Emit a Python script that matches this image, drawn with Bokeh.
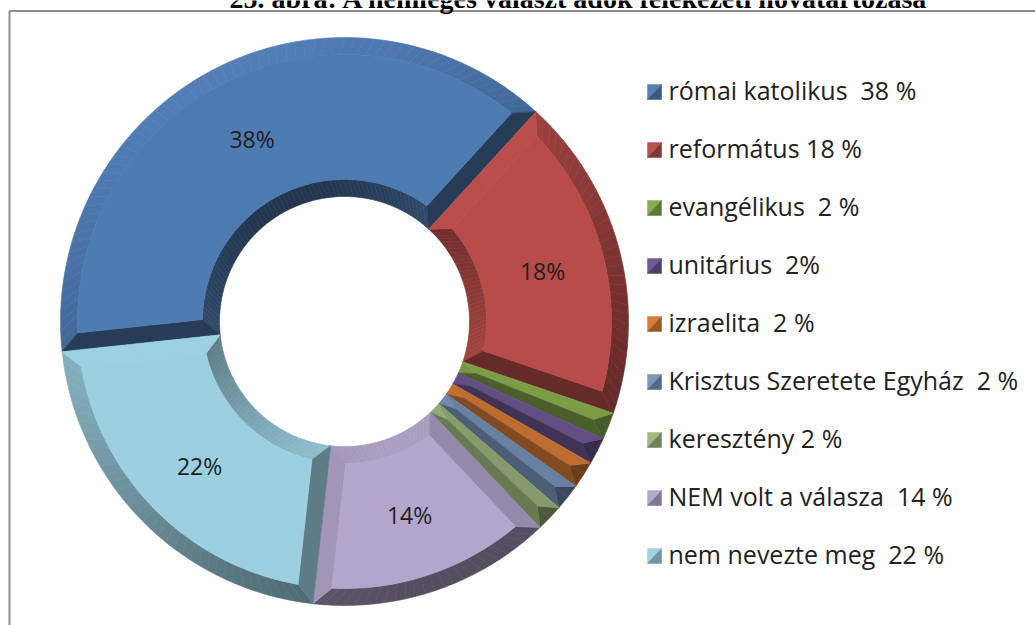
import math
from bokeh.plotting import figure
from bokeh.models import ColumnDataSource, Range1d
from bokeh.core.properties import value
from bokeh.embed import file_html
from bokeh.resources import INLINE

# ---------------- data ----------------
title_text = "25. ábra: A nemleges választ adók felekezeti hovatartozása"
categories = ["római katolikus", "református", "evangélikus", "unitárius", "izraelita",
              "Krisztus Szeretete Egyház", "keresztény", "NEM volt a válasza", "nem nevezte meg"]
counts = [25, 12, 1, 1, 1, 1, 1, 9, 14]
legend_labels = ["római katolikus  38 %", "református 18 %", "evangélikus  2 %", "unitárius  2%",
                 "izraelita  2 %", "Krisztus Szeretete Egyház  2 %", "keresztény 2 %",
                 "NEM volt a válasza  14 %", "nem nevezte meg  22 %"]
slice_labels = ["38%", "18%", "", "", "", "", "", "14%", "22%"]
colors = ["#4F7BB3", "#B84C49", "#83A64A", "#6C5590", "#D27935",
          "#7892B8", "#9DB57E", "#B3A5CB", "#9CD0E1"]

# ---------------- layout / style ----------------
W, H = 1035, 625
CX, CY = 344, 321
RO, RI, BV = 284, 125, 17
START = 263.9  # bearing of first slice start (clockwise from 12 o'clock)
FONT = "Open Sans"


def hex2rgb(h):
    h = h.lstrip("#")
    return [int(h[i:i + 2], 16) for i in (0, 2, 4)]


def shade(h, f):
    r, g, b = hex2rgb(h)
    if f <= 1:
        c = [v * f for v in (r, g, b)]
    else:
        c = [v + (255 - v) * (f - 1) * 0.8 for v in (r, g, b)]
    return "#%02x%02x%02x" % tuple(max(0, min(255, int(round(v)))) for v in c)


def lum(normal_bearing):
    return 0.75 + 0.28 * math.cos(math.radians(normal_bearing - 333))


def pt(r, brg):
    a = math.radians(brg)
    return CX + r * math.sin(a), CY - r * math.cos(a)


p = figure(width=W, height=H, output_backend="svg", toolbar_location=None,
           x_range=Range1d(0, W), y_range=Range1d(H, 0),
           x_axis_location=None, y_axis_location=None, min_border=0,
           outline_line_color=None, background_fill_color="white",
           border_fill_color="white")
p.grid.visible = False

total = float(sum(counts))
xs, ys, fills = [], [], []


def add(poly, col):
    xs.append([q[0] for q in poly])
    ys.append([q[1] for q in poly])
    fills.append(col)


label_x, label_y, label_t = [], [], []
acc = START
for i, c in enumerate(counts):
    s = acc
    e = acc + 360.0 * c / total
    acc = e
    col = colors[i]
    rs = [RI + BV + (RO - RI - 2 * BV) * k / 14.0 for k in range(15)]

    def fa(r, s=s, e=e):
        d = math.degrees(math.asin(min(1.0, BV / r)))
        a0, a1 = s + d, e - d
        if a0 > a1:
            m = (s + e) / 2
            a0 = a1 = m
        return a0, a1

    a0t, a1t = fa(RO - BV)
    a0b, a1b = fa(RI + BV)
    M = max(2, int((e - s) / 2.0))
    # outer bevel strips
    for j in range(M):
        t0, t1 = j / M, (j + 1) / M
        o0, o1 = s + (e - s) * t0, s + (e - s) * t1
        i0, i1 = a0t + (a1t - a0t) * t0, a0t + (a1t - a0t) * t1
        add([pt(RO, o0), pt(RO, o1), pt(RO - BV, i1), pt(RO - BV, i0)],
            shade(col, lum((o0 + o1) / 2)))
    # inner bevel strips
    for j in range(M):
        t0, t1 = j / M, (j + 1) / M
        o0, o1 = s + (e - s) * t0, s + (e - s) * t1
        i0, i1 = a0b + (a1b - a0b) * t0, a0b + (a1b - a0b) * t1
        add([pt(RI, o0), pt(RI, o1), pt(RI + BV, i1), pt(RI + BV, i0)],
            shade(col, lum((o0 + o1) / 2 + 180) * 0.93))
    # side bevels
    add([pt(RI, s), pt(RO, s)] + [pt(r, fa(r)[0]) for r in reversed(rs)],
        shade(col, lum(s - 90)))
    add([pt(RI, e), pt(RO, e)] + [pt(r, fa(r)[1]) for r in reversed(rs)],
        shade(col, lum(e + 90)))
    # face
    if a1t - a0t > 0.05:
        K = max(2, int((a1t - a0t) / 1.5))
        poly = [pt(r, fa(r)[0]) for r in rs]
        poly += [pt(RO - BV, a0t + (a1t - a0t) * k / K) for k in range(K + 1)]
        poly += [pt(r, fa(r)[1]) for r in reversed(rs)]
        poly += [pt(RI + BV, a1b - (a1b - a0b) * k / K) for k in range(K + 1)]
        add(poly, col)
    if slice_labels[i]:
        lx, ly = pt((RO + RI) / 2.0, (s + e) / 2.0)
        label_x.append(lx)
        label_y.append(ly)
        label_t.append(slice_labels[i])

src = ColumnDataSource(dict(xs=xs, ys=ys, fill=fills))
p.patches("xs", "ys", source=src, fill_color="fill", line_color="fill", line_width=0.6)

p.text(x=label_x, y=label_y, text=label_t, text_font=value(FONT), text_font_size="23px",
       text_color="#1f1f1f", text_align="center", text_baseline="middle")

# ---------------- legend ----------------
LX0, LX1, ROW0, STEP, HS = 647, 661, 91.5, 58, 7.5
txs, tys, tcol = [], [], []
for i, lab in enumerate(legend_labels):
    cy = ROW0 + STEP * i
    tl = [(LX0, cy - HS), (LX1, cy - HS), (LX0, cy + HS)]
    br = [(LX1, cy - HS), (LX1, cy + HS), (LX0, cy + HS)]
    txs += [[q[0] for q in tl], [q[0] for q in br]]
    tys += [[q[1] for q in tl], [q[1] for q in br]]
    tcol += [shade(colors[i], 1.05), shade(colors[i], 0.72)]
p.patches(txs, tys, fill_color=tcol, line_color=tcol, line_width=0.5)
shown = [t.replace("  ", " \u00a0") for t in legend_labels]
p.text(x=[668] * len(shown), y=[ROW0 + STEP * i - 2 for i in range(len(shown))],
       text=shown, text_font=value(FONT), text_font_size="25px",
       text_color="#222222", text_align="left", text_baseline="middle")

# ---------------- frame and (cropped) title ----------------
p.line(x=[9, 9, W], y=[H, 10.5, 10.5], line_color="#8c8c8c", line_width=2)
p.text(x=[579], y=[-2.5], text=[title_text], text_font=value("Liberation Serif"),
       text_font_style="bold", text_font_size="28px", text_color="#000000",
       text_align="center", text_baseline="middle")

open("out.html", "w").write(file_html(p, INLINE))
